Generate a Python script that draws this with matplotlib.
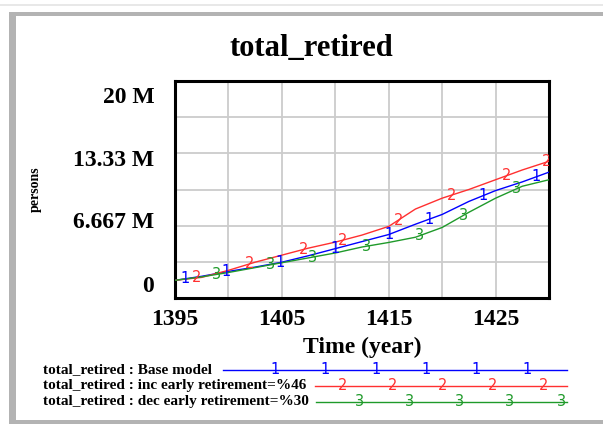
# Package Import
import numpy as np
import matplotlib
matplotlib.use('Agg')
import matplotlib.pyplot as plt
from matplotlib.patches import Rectangle
from matplotlib.lines import Line2D
from matplotlib.transforms import ScaledTranslation

# Data (millions of persons)
years = [1395, 1397.5, 1400, 1402.5, 1405, 1407.5, 1410, 1412.5,
         1415, 1417.5, 1420, 1422.5, 1425, 1427.5, 1430]
base_model = [1.63, 2.0, 2.45, 2.85, 3.3, 3.9, 4.55, 5.2,
              5.85, 6.8, 7.7, 8.9, 9.9, 10.7, 11.6]
inc_early = [1.63, 1.9, 2.55, 3.3, 3.95, 4.6, 5.15, 5.8,
             6.6, 8.2, 9.2, 10.0, 10.9, 11.8, 12.6]
dec_early = [1.63, 1.95, 2.35, 2.8, 3.25, 3.7, 4.15, 4.7,
             5.12, 5.6, 6.5, 7.9, 9.2, 10.3, 10.9]

series_labels = ['total_retired : Base model',
                 'total_retired : inc early retirement=%46',
                 'total_retired : dec early retirement=%30']
series_marks = ['1', '2', '3']
series_colors = ['#0000ff', '#ff3030', '#1f9a2a']

# years where the numbered markers sit on each line
base_marks = [1395.9, 1399.8, 1404.8, 1410, 1415, 1418.8, 1423.8, 1428.8]
inc_marks = [1397, 1402, 1407, 1410.7, 1415.9, 1420.9, 1426, 1429.8]
dec_marks = [1398.9, 1403.9, 1407.9, 1412.9, 1417.9, 1422, 1427]

y_ticks = [0, 3.333, 6.667, 10, 13.333, 16.667, 20]
y_tick_labels = ['0', '', '6.667 M', '', '13.33 M', '', '20 M']
x_ticks = [1395, 1400, 1405, 1410, 1415, 1420, 1425, 1430]
x_tick_labels = ['1395', '', '1405', '', '1415', '', '1425', '']

# Settings
W, H = 603, 424
serif = 'Liberation Serif'
grey = '#b3b3b3'

fig = plt.figure(figsize=(W / 100, H / 100), dpi=100)
fig.patch.set_facecolor('white')


def px_rect(x0, y0, x1, y1, color):
    return Rectangle((x0 / W, 1 - y1 / H), (x1 - x0) / W, (y1 - y0) / H,
                     transform=fig.transFigure, color=color, lw=0, zorder=0)


# Window frame
fig.patches.append(px_rect(0, 4, W, 6, '#e8e8e8'))
fig.patches.append(px_rect(9, 12, W, 16, grey))
fig.patches.append(px_rect(9, 12, 16, H, grey))
fig.patches.append(px_rect(9, 420, W, H, grey))

# Plot area
ax = fig.add_axes([175 / W, 1 - 298 / H, 374 / W, 217 / H])
all_series = [base_model, inc_early, dec_early]
all_marks = [base_marks, inc_marks, dec_marks]
for values, marks, mark, color in zip(all_series, all_marks, series_marks, series_colors):
    vals = np.array(values) * 1e6
    ax.plot(years, vals, color=color, lw=1.0, zorder=3)
    for my in marks:
        ax.text(my, np.interp(my, years, vals), mark, color=color,
                fontsize=10.5, family='DejaVu Sans', ha='center', va='center',
                zorder=4, clip_on=True)

ax.set_xlim(1395, 1430)
ax.set_ylim(0, 20e6)
ax.set_xticks(x_ticks)
ax.set_xticklabels(x_tick_labels)
ax.set_yticks(np.array(y_ticks) * 1e6)
ax.set_yticklabels(y_tick_labels)
ax.tick_params(length=0, labelsize=17)
ax.tick_params(axis='x', pad=8)
ax.tick_params(axis='y', pad=15)
for lab in ax.get_xticklabels() + ax.get_yticklabels():
    lab.set_family(serif)
    lab.set_fontweight('bold')

# Vensim pulls the end labels inwards
shifts = {'0': 10, '6.667 M': 4, '13.33 M': -3.4, '20 M': -10}
for lab in ax.get_yticklabels():
    dy = shifts.get(lab.get_text(), 0)
    lab.set_transform(lab.get_transform() + ScaledTranslation(0, dy / 72, fig.dpi_scale_trans))

ax.grid(True, color='#cccccc', lw=1.3)
ax.set_axisbelow(True)
for sp in ax.spines.values():
    sp.set_linewidth(2.2)
    sp.set_color('black')

ax.set_xlabel('Time (year)', family=serif, fontweight='bold', fontsize=17, labelpad=5)
ax.set_ylabel('persons', family=serif, fontweight='bold', fontsize=10)
ax.yaxis.set_label_coords(-0.356, 0.5)

# Title
fig.text(311 / W, 1 - 48 / H, 'total_retired', family=serif, fontweight='bold',
         fontsize=22, ha='center', va='center')

# Legend
legend_rows = [370, 386, 402]
legend_starts = [223, 315, 316]
legend_marks = [[275, 325, 376, 426, 476, 527],
                [343, 393, 443, 493, 544],
                [359, 410, 460, 510, 562]]
for lab, row, x0, xs, mark, color in zip(series_labels, legend_rows, legend_starts,
                                          legend_marks, series_marks, series_colors):
    fig.text(43 / W, 1 - row / H, lab, family=serif, fontweight='bold',
             fontsize=11, ha='left', va='center')
    fig.add_artist(Line2D([x0 / W, 567 / W], [1 - row / H, 1 - row / H],
                          color=color, lw=1.0, transform=fig.transFigure))
    for x in xs:
        fig.text(x / W, 1 - row / H, mark, color=color, fontsize=10.5,
                 family='DejaVu Sans', ha='center', va='center')

fig.savefig('out.png', dpi=100)
plt.close()
